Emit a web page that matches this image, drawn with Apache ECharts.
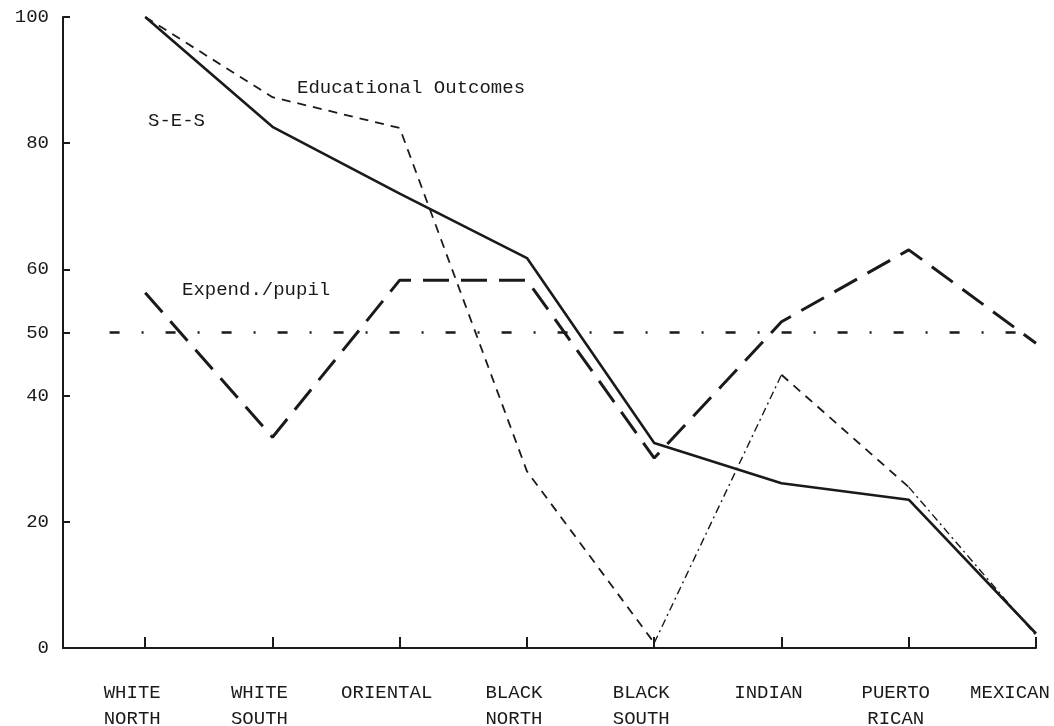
<!DOCTYPE html>
<html>
<head>
<meta charset="utf-8">
<script src="https://cdn.jsdelivr.net/npm/echarts@6/dist/echarts.min.js"></script>
<style>
html,body{margin:0;padding:0;background:#fff;}
#chart{width:1054px;height:726px;}
</style>
</head>
<body>
<div id="chart"></div>
<script>
// ---- data ----
const categories = ['WHITE\nNORTH','WHITE\nSOUTH','ORIENTAL','BLACK\nNORTH','BLACK\nSOUTH','INDIAN','PUERTO\nRICAN','MEXICAN'];
const ses       = [100, 82.6, 72.0, 61.8, 32.5, 26.1, 23.5, 2.3];
const eduOutcomes = [100, 87.3, 82.4, 28.0, 0.8, 43.3, 25.5, 2.0];
const expendPupil = [56.3, 33.4, 58.3, 58.3, 30.1, 51.7, 63.1, 48.3];
const refLevel = 50;
const refFrom = -0.28;      // reference line starts a bit left of first category
const yTicks = [0, 20, 40, 50, 60, 80, 100];
const xTicks = categories.map((c, i) => i);

// helpers: build [x,y] pairs, with '-' breaks for selected segments
function pairs(arr) { return arr.map((v, i) => [i, v]); }
function segments(arr, segs) {
  const out = [];
  segs.forEach((s, k) => {
    if (k > 0) out.push([s[0] - 0.5, '-']);
    for (let i = s[0]; i <= s[1]; i++) out.push([i, arr[i]]);
  });
  return out;
}

const FONT = '"Liberation Mono", "DejaVu Sans Mono", monospace';
const INK = '#1a1a1a';

const chart = echarts.init(document.getElementById('chart'), null, {renderer: 'canvas'});
chart.setOption({
  backgroundColor: '#ffffff',
  animation: false,
  grid: {left: 63, right: 18, top: 17, bottom: 78, containLabel: false, outerBoundsMode: 'none'},
  xAxis: {
    type: 'value', min: -0.646, max: 7,
    axisLine: {show: true, onZero: false, lineStyle: {color: INK, width: 2}},
    axisTick: {show: true, inside: true, length: 11, customValues: xTicks, lineStyle: {color: INK, width: 2}},
    axisLabel: {
      show: true, customValues: xTicks, margin: 32,
      color: INK, fontFamily: FONT, fontSize: 19, lineHeight: 26,
      align: 'center', padding: [0, 26, 0, 0], hideOverlap: false,
      formatter: function (v) {
        const i = Math.round(v);
        if (i === categories.length - 1) return '{m|' + categories[i] + '}';
        return categories[i];
      },
      rich: {m: {fontFamily: FONT, fontSize: 19, color: INK, padding: [0, 26, 0, 0]}}
    },
    splitLine: {show: false}
  },
  yAxis: {
    type: 'value', min: 0, max: 100,
    axisLine: {show: true, onZero: false, lineStyle: {color: INK, width: 2}},
    axisTick: {show: true, inside: true, length: 7, customValues: yTicks, lineStyle: {color: INK, width: 2}},
    axisLabel: {show: true, customValues: yTicks, margin: 14, color: INK, fontFamily: FONT, fontSize: 19},
    splitLine: {show: false}
  },
  series: [
    {
      name: 'reference', type: 'line', symbol: 'none',
      data: [[refFrom, refLevel], [xTicks[xTicks.length - 1], refLevel]],
      lineStyle: {color: INK, width: 2.5, type: [10, 22, 2, 22]}
    },
    {
      name: 'S-E-S', type: 'line', symbol: 'none',
      data: pairs(ses),
      lineStyle: {color: INK, width: 2.6, type: 'solid'}
    },
    {
      name: 'Educational Outcomes', type: 'line', symbol: 'none', connectNulls: false,
      data: segments(eduOutcomes, [[0, 4], [5, 6]]),
      lineStyle: {color: INK, width: 1.8, type: [9, 7]}
    },
    {
      name: 'Educational Outcomes (b)', type: 'line', symbol: 'none', connectNulls: false,
      data: segments(eduOutcomes, [[4, 5], [6, 7]]),
      lineStyle: {color: INK, width: 1.4, type: [8, 4, 2, 4]}
    },
    {
      name: 'Expend./pupil', type: 'line', symbol: 'none',
      data: pairs(expendPupil),
      lineStyle: {color: INK, width: 3, type: [26, 12]}
    }
  ],
  graphic: [
    {type: 'text', left: 148, top: 111, style: {text: 'S-E-S', fill: INK, font: '19px ' + FONT}},
    {type: 'text', left: 297, top: 78, style: {text: 'Educational Outcomes', fill: INK, font: '19px ' + FONT}},
    {type: 'text', left: 182, top: 280, style: {text: 'Expend./pupil', fill: INK, font: '19px ' + FONT}}
  ]
});
</script>
</body>
</html>
